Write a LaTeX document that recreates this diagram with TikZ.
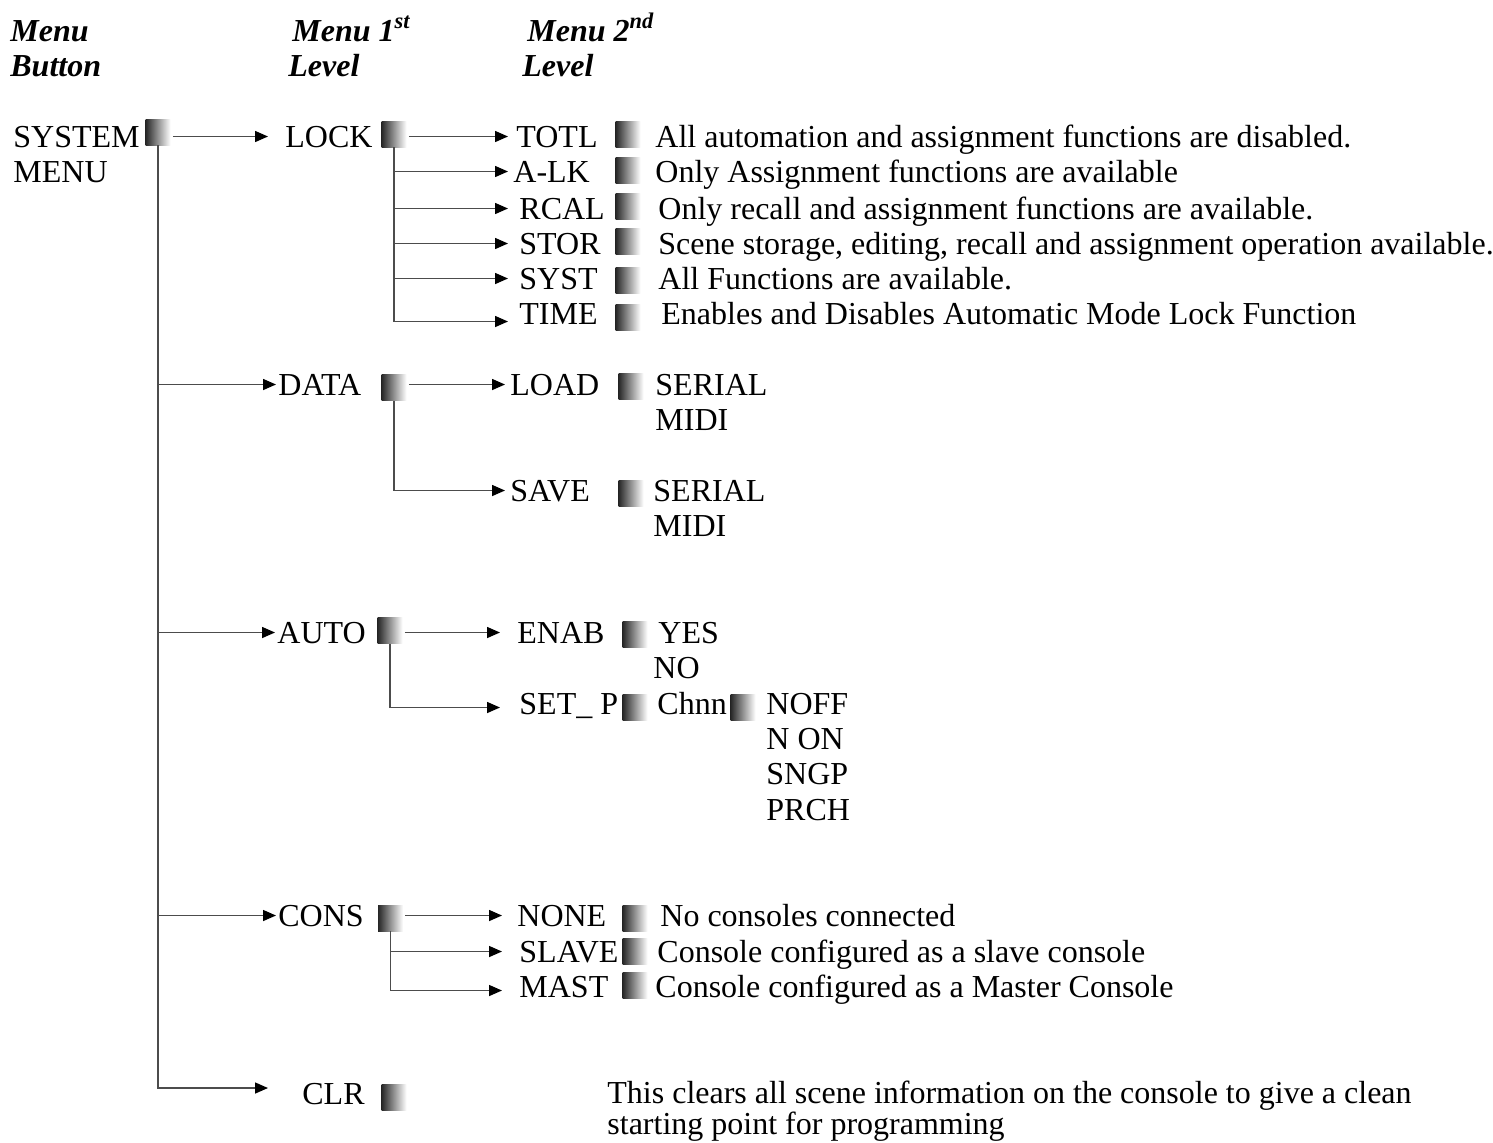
\documentclass[tikz,border=0pt]{standalone}
\usepackage{fontspec}
\setmainfont{Liberation Serif}
\usetikzlibrary{arrows.meta}

\begin{document}
\begin{tikzpicture}[
    x=0.5pt, y=-0.5pt,
    lbl/.style={anchor=base west, inner sep=0, text height=10.5pt, text depth=0pt, font=\fontsize{16}{17.5}\selectfont},
    head/.style={lbl, font=\fontsize{16}{17.5}\selectfont\bfseries\itshape},
    sq/.style={inner sep=0, minimum width=12.5pt, minimum height=13pt, left color=black!85, right color=white},
    trunk/.style={draw=black!70, line width=0.75pt},
    link/.style={trunk, -{Triangle[length=6.5pt, width=5.5pt, color=black]}}
]
\useasboundingbox (0,0) rectangle (1493,1142);

% column headings
\node[head] (h1a) at (10,41) {Menu};
\node[head] (h1b) at (10,76) {Button};
\node[head] (h2a) at (292,41) {Menu 1\textsuperscript{st}};
\node[head] (h2b) at (288,76) {Level};
\node[head] (h3a) at (527,41) {Menu 2\textsuperscript{nd}};
\node[head] (h3b) at (522,76) {Level};

% menu button
\node[lbl] (sys1) at (13,147) {SYSTEM};
\node[lbl] (sys2) at (13,182) {MENU};
\node[sq] (sqsys) at (158,132) {};

% LOCK
\node[lbl] (lock) at (285,147) {LOCK};
\node[sq] (sqlock) at (394,134) {};
\node[lbl] (totl) at (516,147) {TOTL};
\node[lbl] (alk) at (513,182) {A-LK};
\node[lbl] (rcal) at (519,219) {RCAL};
\node[lbl] (stor) at (519,254) {STOR};
\node[lbl] (syst) at (519,289) {SYST};
\node[lbl] (time) at (519,324) {TIME};
\node[sq] (sqtotl) at (628,134.5) {};
\node[sq] (sqalk) at (628,170) {};
\node[sq] (sqrcal) at (628,206.5) {};
\node[sq] (sqstor) at (628,241.5) {};
\node[sq] (sqsyst) at (628,280) {};
\node[sq] (sqtime) at (628,317.5) {};
\node[lbl] (dtotl) at (655,147) {All automation and assignment functions are disabled.};
\node[lbl] (dalk) at (655,182) {Only Assignment functions are available};
\node[lbl] (drcal) at (658,219) {Only recall and assignment functions are available.};
\node[lbl] (dstor) at (658,254) {Scene storage, editing, recall and assignment operation available.};
\node[lbl] (dsyst) at (658,289) {All Functions are available.};
\node[lbl] (dtime) at (661,324) {Enables and Disables Automatic Mode Lock Function};

% DATA
\node[lbl] (data) at (278,395) {DATA};
\node[sq] (sqdata) at (394,387.5) {};
\node[lbl] (load) at (510,395) {LOAD};
\node[sq] (sqload) at (631,386.5) {};
\node[lbl] (lserial) at (655,395) {SERIAL};
\node[lbl] (lmidi) at (655,430) {MIDI};
\node[lbl] (save) at (510,501) {SAVE};
\node[sq] (sqsave) at (631,493.5) {};
\node[lbl] (sserial) at (653,501) {SERIAL};
\node[lbl] (smidi) at (653,536) {MIDI};

% AUTO
\node[lbl] (auto) at (277,643) {AUTO};
\node[sq] (sqauto) at (390,630.5) {};
\node[lbl] (enab) at (517,643) {ENAB};
\node[sq] (sqenab) at (635,634.5) {};
\node[lbl] (yes) at (658,643) {YES};
\node[lbl] (no) at (653,678) {NO};
\node[lbl] (setp) at (519,714) {SET\_ P};
\node[sq] (sqsetp) at (635,707.5) {};
\node[lbl] (chnn) at (657,714) {Chnn};
\node[sq] (sqchnn) at (743,707.5) {};
\node[lbl] (noff) at (766,714) {NOFF};
\node[lbl] (non) at (766,749) {N ON};
\node[lbl] (sngp) at (766,784) {SNGP};
\node[lbl] (prch) at (766,820) {PRCH};

% CONS
\node[lbl] (cons) at (278,926) {CONS};
\node[sq] (sqcons) at (390.5,918) {};
\node[lbl] (none) at (517,926) {NONE};
\node[lbl] (slave) at (519,962) {SLAVE};
\node[lbl] (mast) at (519,997) {MAST};
\node[sq] (sqnone) at (635,918.5) {};
\node[sq] (sqslave) at (635,951.5) {};
\node[sq] (sqmast) at (635,985) {};
\node[lbl] (dnone) at (660,926) {No consoles connected};
\node[lbl] (dslave) at (657,962) {Console configured as a slave console};
\node[lbl] (dmast) at (655,997) {Console configured as a Master Console};

% CLR
\node[lbl] (clr) at (302,1104) {CLR};
\node[sq] (sqclr) at (394,1097.5) {};
\node[lbl] (dclr1) at (607,1103) {This clears all scene information on the console to give a clean};
\node[lbl] (dclr2) at (607,1134) {starting point for programming};

% connectors
\draw[link, shorten <=1pt, shorten >=8.5pt] (sqsys.east |- lock.west) -- (lock.west);
\draw[link, shorten >=1pt] (sqsys.south) |- (data.west);
\draw[link, shorten >=1pt] (sqsys.south) |- (auto.west);
\draw[link, shorten >=1pt] (sqsys.south) |- (cons.west);
\draw[link, shorten >=17pt] (sqsys.south) |- ([yshift=2.75pt]clr.west);

\draw[link, shorten <=1pt, shorten >=4pt] (sqlock.east |- totl.west) -- (totl.west);
\draw[link, shorten >=2.5pt] (sqlock.south) |- (alk.west);
\draw[link, shorten >=5.5pt] (sqlock.south) |- (rcal.west);
\draw[link, shorten >=5.5pt] (sqlock.south) |- (stor.west);
\draw[link, shorten >=5.5pt] (sqlock.south) |- (syst.west);
\draw[link, shorten >=5.5pt] (sqlock.south) |- ([yshift=-4pt]time.west);

\draw[link, shorten <=1pt, shorten >=2.5pt] (sqdata.east |- load.west) -- (load.west);
\draw[link, shorten >=2.5pt] (sqdata.south) |- (save.west);

\draw[link, shorten <=1pt, shorten >=8.5pt] (sqauto.east |- enab.west) -- (enab.west);
\draw[link, shorten >=9.5pt] (sqauto.south) |- ([yshift=-2pt]setp.west);

\draw[link, shorten <=1pt, shorten >=7.5pt] (sqcons.east |- none.west) -- (none.west);
\draw[link, shorten >=8.5pt] (sqcons.south) |- (slave.west);
\draw[link, shorten >=8.5pt] (sqcons.south) |- ([yshift=-2pt]mast.west);
\end{tikzpicture}
\end{document}
